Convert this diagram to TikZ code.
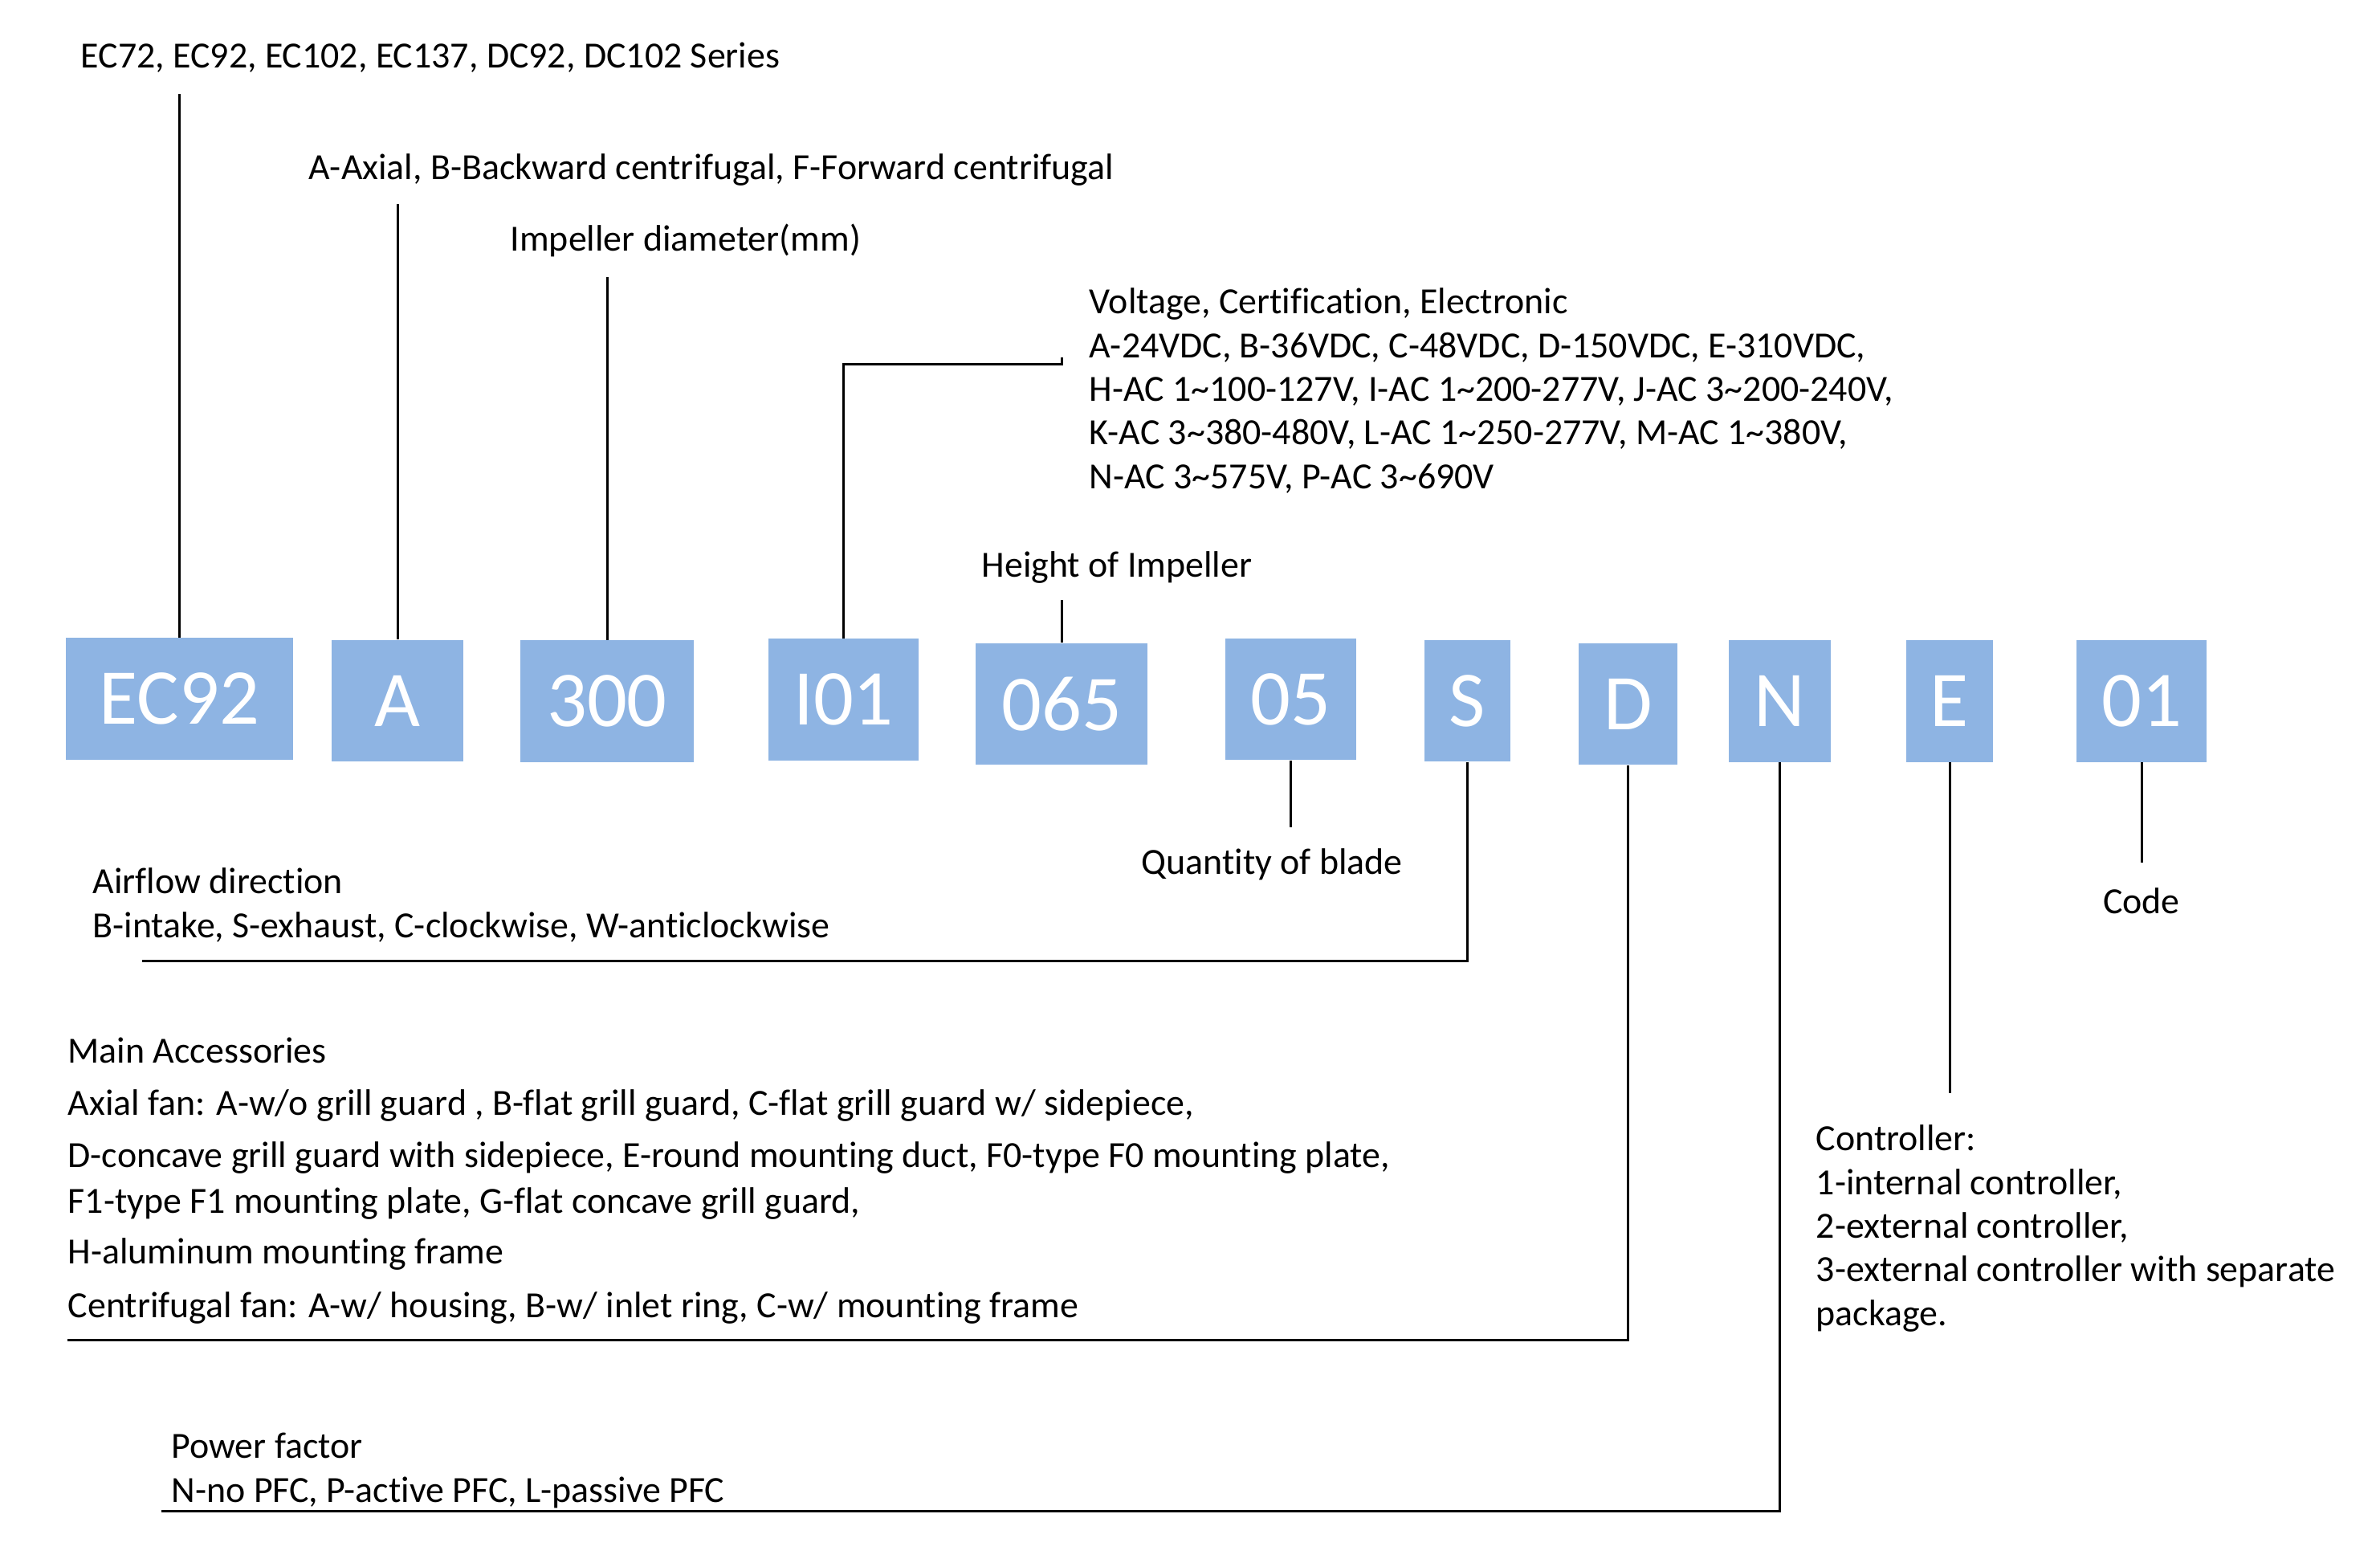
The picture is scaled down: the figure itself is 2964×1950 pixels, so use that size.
\documentclass[tikz,border=0pt]{standalone}
\usepackage{fontspec}
\setmainfont{Carlito}[Ligatures=NoCommon]
\usetikzlibrary{positioning,calc}
\definecolor{segblue}{HTML}{8EB4E3}

\begin{document}
\begin{tikzpicture}[x=0.01cm, y=-0.01cm,
  every node/.style={font=\fontsize{13.05}{15.45}\selectfont},
  seg/.style  ={fill=segblue, text=white, inner sep=0pt,
                font=\fontsize{28}{32}\selectfont,
                minimum height=1.51cm, minimum width=#1cm},
  lbl/.style  ={anchor=base west, inner sep=0pt, align=left},
  lead/.style ={line width=0.85pt}]
\useasboundingbox (0,0) rectangle (2964,1950);

%% Code segments
\node[seg=2.83] (ser) at ( 223.5, 870.0) {EC92};
\node[seg=1.64] (typ) at ( 495.0, 872.5) {A};
\node[seg=2.16] (dia) at ( 756.0, 873.0) {300};
\node[seg=1.87] (vol) at (1050.5, 871.0) {I01};
\node[seg=2.14] (hgt) at (1322.0, 876.5) {065};
\node[seg=1.63] (qty) at (1607.5, 870.5) {05};
\node[seg=1.07] (dir) at (1827.5, 872.5) {S};
\node[seg=1.23] (acc) at (2027.5, 876.5) {D};
\node[seg=1.27] (pf)  at (2216.5, 873.0) {N};
\node[seg=1.08] (ctl) at (2428.0, 873.0) {E};
\node[seg=1.62] (cod) at (2667.0, 873.0) {01};

%% Labels above (multi-line ones sit on their last baseline)
\node[lbl] (serTxt) at (100, 84) {EC72, EC92, EC102, EC137, DC92, DC102 Series};
\node[lbl] (typTxt) at (384, 223) {A-Axial, B-Backward centrifugal, F-Forward centrifugal};
\node[lbl] (diaTxt) at (635, 312) {Impeller diameter(mm)};
\node[lbl] (volTxt) at (1356, 608) {Voltage, Certification, Electronic\\
  A-24VDC, B-36VDC, C-48VDC, D-150VDC, E-310VDC,\\
  H-AC 1\textasciitilde100-127V, I-AC 1\textasciitilde200-277V, J-AC 3\textasciitilde200-240V,\\
  K-AC 3\textasciitilde380-480V, L-AC 1\textasciitilde250-277V, M-AC 1\textasciitilde380V,\\
  N-AC 3\textasciitilde575V, P-AC 3\textasciitilde690V};
\node[lbl] (hgtTxt) at (1222, 718) {Height of Impeller};

%% Labels below
\node[lbl] (qtyTxt) at (1421, 1088) {Quantity of blade};
\node[lbl, anchor=base] (codTxt) at (2667, 1137) {Code};
\node[lbl] (dirTxt) at (115, 1167) {Airflow direction\\
  B-intake, S-exhaust, C-clockwise, W-anticlockwise};
\node[lbl] (accTxt) at (84, 1640) {Main Accessories\\[3.3pt]
  Axial fan: A-w/o grill guard , B-flat grill guard, C-flat grill guard w/ sidepiece,\\[3pt]
  D-concave grill guard with sidepiece, E-round mounting duct, F0-type F0 mounting plate,\\[0.7pt]
  F1-type F1 mounting plate, G-flat concave grill guard,\\[2.4pt]
  H-aluminum mounting frame\\[3.5pt]
  Centrifugal fan: A-w/ housing, B-w/ inlet ring, C-w/ mounting frame};
\node[lbl] (ctlTxt) at (2261, 1650) {Controller:\\
  1-internal controller,\\
  2-external controller,\\
  3-external controller with separate\\
  package.};
\node[lbl] (pfTxt) at (213, 1870) {Power factor\\
  N-no PFC, P-active PFC, L-passive PFC};

%% Free ends of the leaders
\coordinate (serEnd) at (223.5, 117);
\coordinate (typEnd) at (495, 254);
\coordinate (diaEnd) at (756, 345);
\coordinate (volBend) at (1322, 453);
\coordinate (volTick) at (1322, 445);
\coordinate (hgtEnd) at (1322, 747);
\coordinate (qtyEnd) at (1607.5, 1030);
\coordinate (dirEnd) at (177, 1196);
\coordinate (accEnd) at (84, 1668);
\coordinate (pfEnd)  at (201, 1881);
\coordinate (ctlEnd) at (2428, 1361);
\coordinate (codEnd) at (2667, 1074);

%% Leaders up
\draw[lead] (ser.north) -- (serEnd);
\draw[lead] (typ.north) -- (typEnd);
\draw[lead] (dia.north) -- (diaEnd);
\draw[lead] (vol.north) |- (volBend) -- (volTick);
\draw[lead] (hgt.north) -- (hgtEnd);

%% Leaders down
\draw[lead] (qty.south) -- (qtyEnd);
\draw[lead] (dir.south) |- (dirEnd);
\draw[lead] (acc.south) |- (accEnd);
\draw[lead] (pf.south)  |- (pfEnd);
\draw[lead] (ctl.south) -- (ctlEnd);
\draw[lead] (cod.south) -- (codEnd);
\end{tikzpicture}
\end{document}
